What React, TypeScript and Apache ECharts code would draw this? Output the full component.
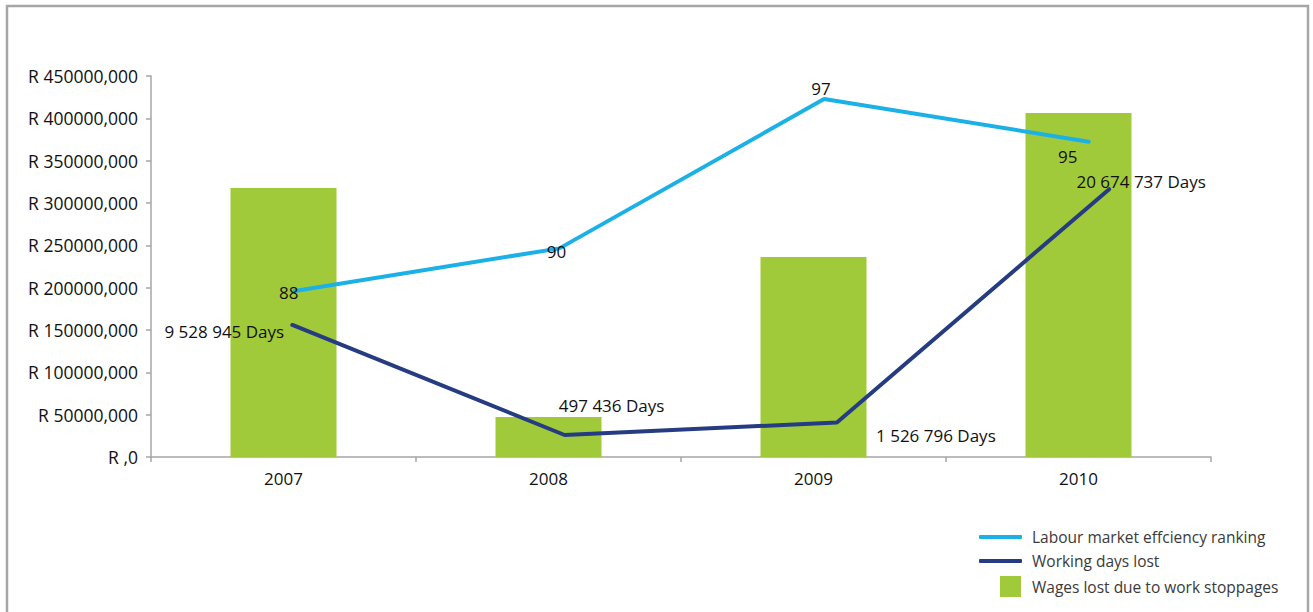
import React, { useEffect, useRef } from "react";
import * as echarts from "echarts";

const categories = ["2007", "2008", "2009", "2010"];
const wagesLost = [317700000, 47200000, 236200000, 406300000];
const rankings = [88, 90, 97, 95];
const daysLost = [9528945, 497436, 1526796, 20674737];
const daysLabels = ["9 528 945 Days", "497 436 Days", "1 526 796 Days", "20 674 737 Days"];
const rankLabelOffsets = [[-6, 1], [-3, 3], [-3, -11], [-21, 15]];
const daysLabelOffsets = [[-68, 7], [47, -29], [99, 13], [32, -8]];

const FONT = "'Open Sans', 'Noto Sans', sans-serif";

export default function App() {
  const ref = useRef<HTMLDivElement>(null);
  useEffect(() => {
    if (!ref.current) return;
    const chart = echarts.init(ref.current, null, { renderer: "svg" });
    const option: any = {
      animation: false,
      textStyle: { fontFamily: FONT },
      graphic: [
        {
          type: "rect",
          silent: true,
          shape: { x: 7, y: 6, width: 1301, height: 700 },
          style: { fill: "none", stroke: "#a6a6a6", lineWidth: 2.5 },
        },
      ],
      grid: { left: 151, right: 102, top: 76, bottom: 155, containLabel: false },
      xAxis: [
        {
          type: "category",
          data: categories,
          boundaryGap: true,
          axisLine: { onZero: false, lineStyle: { color: "#a6a6a6", width: 1.5 } },
          axisTick: { show: true, length: 5, inside: false, lineStyle: { color: "#a6a6a6", width: 1.5 } },
          axisLabel: { color: "#111", fontSize: 17, fontFamily: FONT, margin: 13 },
        },
        { type: "value", show: false, min: -0.543, max: 3.462, gridIndex: 0, axisLine: { onZero: false } },
        { type: "value", show: false, min: -0.519, max: 3.374, gridIndex: 0, axisLine: { onZero: false } },
      ],
      yAxis: [
        {
          type: "value",
          min: 0,
          max: 450000000,
          interval: 50000000,
          splitLine: { show: false },
          axisLine: { show: true, onZero: false, lineStyle: { color: "#a6a6a6", width: 1.5 } },
          axisTick: { show: true, length: 5, lineStyle: { color: "#a6a6a6", width: 1.5 } },
          axisLabel: {
            color: "#111",
            fontSize: 17.5,
            fontFamily: FONT,
            margin: 13,
            formatter: (v: number) => (v === 0 ? "R ,0" : "R " + v / 1000 + ",000"),
          },
        },
        { type: "value", show: false, min: 80.22, max: 98.08, splitLine: { show: false }, axisLine: { onZero: false } },
        { type: "value", show: false, min: -1310000, max: 29970000, splitLine: { show: false }, axisLine: { onZero: false } },
      ],
      legend: [
        {
          orient: "vertical",
          left: 974,
          top: 522,
          itemWidth: 43,
          itemHeight: 4,
          itemGap: 4,
          data: [
            { name: "Labour market effciency ranking", icon: "roundRect" },
            { name: "Working days lost", icon: "roundRect" },
          ],
          textStyle: { fontSize: 15.5, color: "#3a3a3a", fontFamily: FONT, lineHeight: 20, padding: [0, 0, 0, 5] },
        },
        {
          orient: "vertical",
          left: 995,
          top: 571,
          itemWidth: 21,
          itemHeight: 21,
          data: [{ name: "Wages lost due to work stoppages", icon: "rect" }],
          textStyle: { fontSize: 15.5, color: "#3a3a3a", fontFamily: FONT, padding: [0, 0, 0, 6] },
        },
      ],
      series: [
        {
          name: "Wages lost due to work stoppages",
          type: "bar",
          xAxisIndex: 0,
          yAxisIndex: 0,
          barWidth: 106,
          data: wagesLost,
          itemStyle: { color: "#a1ca3b" },
          z: 1,
        },
        {
          name: "Labour market effciency ranking",
          type: "line",
          xAxisIndex: 1,
          yAxisIndex: 1,
          symbol: "circle",
          symbolSize: 1,
          lineStyle: { color: "#1cb1e6", width: 4, cap: "round" },
          itemStyle: { color: "#1cb1e6" },
          data: rankings.map((r, i) => ({
            value: [i, r],
            label: {
              show: true,
              position: "inside",
              offset: rankLabelOffsets[i],
              formatter: String(r),
              color: "#111",
              fontSize: 17,
              fontFamily: FONT,
            },
          })),
          z: 3,
        },
        {
          name: "Working days lost",
          type: "line",
          xAxisIndex: 2,
          yAxisIndex: 2,
          symbol: "circle",
          symbolSize: 1,
          lineStyle: { color: "#253c82", width: 4, cap: "round" },
          itemStyle: { color: "#253c82" },
          data: daysLost.map((d, i) => ({
            value: [i, d],
            label: {
              show: true,
              position: "inside",
              offset: daysLabelOffsets[i],
              formatter: daysLabels[i],
              color: "#111",
              fontSize: 17,
              fontFamily: FONT,
            },
          })),
          z: 2,
        },
      ],
    };
    chart.setOption(option);
    return () => chart.dispose();
  }, []);
  return (
    <div
      ref={ref}
      style={{ position: "fixed", left: 0, top: 0, width: 1313, height: 612, background: "#fff" }}
    />
  );
}
